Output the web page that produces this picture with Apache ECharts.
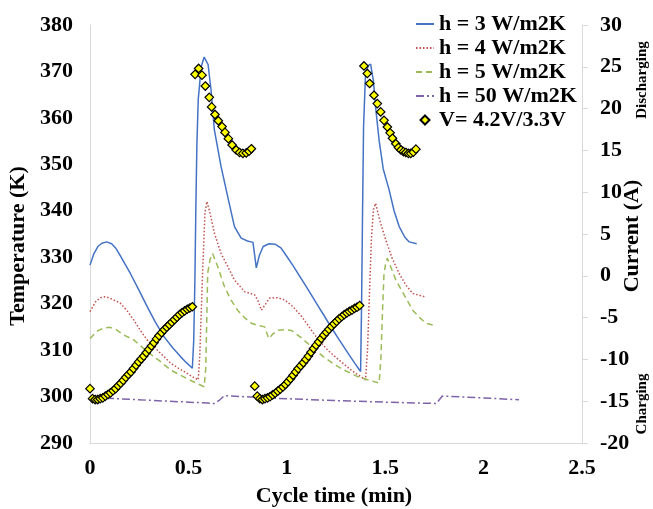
<!DOCTYPE html>
<html>
<head>
<meta charset="utf-8">
<script src="https://cdn.jsdelivr.net/npm/echarts@6/dist/echarts.min.js"></script>
<style>
html,body{margin:0;padding:0;background:#fff;}
#chart{width:653px;height:509px;}
</style>
</head>
<body>
<div id="chart"></div>
<script>
// ---------- data ----------
const xTicks = ['0', '0.5', '1', '1.5', '2', '2.5'];

const h3Time = [0, 0.02, 0.04, 0.06, 0.085, 0.11, 0.13, 0.15, 0.205, 0.25, 0.29, 0.33, 0.376, 0.42, 0.46, 0.49, 0.52,
  0.527, 0.533, 0.538, 0.543, 0.55, 0.565, 0.58, 0.59, 0.60, 0.615, 0.632, 0.666, 0.70, 0.734, 0.768, 0.80, 0.828,
  0.838, 0.845, 0.86, 0.88, 0.91, 0.94, 0.97, 0.99, 1.03, 1.07, 1.11, 1.15, 1.19, 1.23, 1.27, 1.31, 1.345, 1.375,
  1.38, 1.385, 1.39, 1.40, 1.415, 1.426, 1.44, 1.451, 1.469, 1.49, 1.52, 1.545, 1.571, 1.6, 1.622, 1.66];
const h3Temp = [328.3, 330.8, 332.3, 333.0, 333.3, 332.9, 332.0, 330.6, 326.5, 322.8, 319.4, 316.2, 312.9, 310.5, 308.6, 307.3, 306.1,
  312, 325, 341, 354, 364, 371, 373.1, 373.3, 371.5, 366, 357.4, 349.5, 343.0, 336.6, 334.1, 333.5, 333.2,
  330.0, 327.7, 330.3, 332.3, 332.9, 332.8, 332.0, 330.8, 328.3, 325.6, 322.9, 320.1, 317.4, 314.6, 312.0, 309.4, 307.2, 305.4,
  320, 340, 358, 369.6, 371.3, 371.6, 368, 362.4, 355.2, 349.0, 344.5, 340.0, 336.6, 334.3, 333.3, 332.9];

const h4Time = [0, 0.03, 0.055, 0.077, 0.10, 0.13, 0.154, 0.19, 0.222, 0.255, 0.29, 0.325, 0.359, 0.41, 0.445, 0.478, 0.515, 0.55,
  0.558, 0.565, 0.572, 0.584, 0.594, 0.61, 0.632, 0.666, 0.70, 0.734, 0.785, 0.837, 0.855, 0.871, 0.89, 0.913, 0.95,
  0.99, 1.03, 1.076, 1.12, 1.16, 1.21, 1.264, 1.33, 1.40, 1.41, 1.42, 1.43, 1.44, 1.451, 1.475, 1.503, 1.535, 1.571, 1.605, 1.64, 1.70];
const h4Temp = [318.3, 320.5, 321.3, 321.5, 321.2, 320.6, 320.1, 318.4, 316.5, 314.3, 312.2, 310.7, 309.3, 307.2, 306.2, 305.4, 304.4, 303.6,
  309, 318, 326.5, 339.5, 342.0, 339.5, 335.2, 330.8, 328.0, 325.1, 322.6, 321.9, 320.5, 318.6, 319.8, 321.2, 321.3,
  320.8, 319.4, 317.2, 314.6, 312.2, 309.9, 307.9, 305.6, 303.6, 310, 322, 334, 340.2, 341.6, 337.6, 333.7, 329.8, 326.5, 324.0, 322.2, 321.5];

const h5Time = [0, 0.04, 0.075, 0.102, 0.13, 0.17, 0.222, 0.29, 0.359, 0.41, 0.46, 0.52, 0.58,
  0.588, 0.593, 0.598, 0.61, 0.623, 0.649, 0.683, 0.715, 0.75, 0.785, 0.82, 0.855, 0.888, 0.908, 0.93, 0.956,
  0.99, 1.025, 1.075, 1.127, 1.185, 1.246, 1.30, 1.36, 1.42, 1.469, 1.478, 1.486, 1.494, 1.503, 1.511, 1.532, 1.554, 1.6, 1.64, 1.675, 1.707, 1.76];
const h5Temp = [312.5, 314.2, 314.8, 314.9, 314.5, 313.3, 312.2, 309.7, 307.5, 305.7, 304.6, 303.3, 302.1,
  306, 316, 326.5, 329.5, 330.8, 328.0, 323.7, 320.9, 318.6, 317.0, 315.8, 315.3, 315.0, 312.5, 313.5, 314.3,
  314.4, 314.2, 312.6, 310.7, 308.6, 306.8, 305.5, 304.3, 303.5, 302.9, 308, 318, 326.5, 328.8, 329.8, 327.5, 325.1, 321.6, 318.6, 317.0, 315.8, 315.2];

const h50Time = [0, 0.2, 0.4, 0.6, 0.632, 0.66, 0.683, 0.9, 1.2, 1.5, 1.76, 1.775, 1.79, 2.0, 2.18];
const h50Temp = [299.8, 299.4, 299.0, 298.6, 298.5, 299.3, 300.2, 299.7, 299.2, 298.8, 298.5, 299.3, 300.1, 299.7, 299.3];

const vTime = [
  // charging, cycle 1
  0, 0.013, 0.026, 0.039, 0.052, 0.065, 0.078, 0.091, 0.104, 0.117, 0.13, 0.143, 0.156, 0.169, 0.182, 0.195, 0.208,
  0.221, 0.234, 0.247, 0.26, 0.273, 0.286, 0.299, 0.312, 0.325, 0.338, 0.351, 0.364, 0.377, 0.39, 0.403, 0.416,
  0.429, 0.442, 0.455, 0.468, 0.481, 0.494, 0.507, 0.52,
  // discharging, cycle 1
  0.534, 0.552, 0.569, 0.586, 0.606, 0.618, 0.635, 0.652, 0.671, 0.686, 0.703, 0.722, 0.743, 0.76, 0.777, 0.794, 0.808, 0.82,
  // charging, cycle 2
  0.837, 0.850, 0.863, 0.876, 0.889, 0.902, 0.915, 0.928, 0.941, 0.954, 0.967, 0.980, 0.993, 1.006, 1.019, 1.032,
  1.045, 1.058, 1.071, 1.084, 1.097, 1.110, 1.123, 1.136, 1.149, 1.162, 1.175, 1.188, 1.201, 1.214, 1.227, 1.240,
  1.253, 1.266, 1.279, 1.292, 1.305, 1.318, 1.331, 1.344, 1.357, 1.370,
  // discharging, cycle 2
  1.392, 1.409, 1.421, 1.443, 1.46, 1.477, 1.494, 1.511, 1.525, 1.537, 1.554, 1.567, 1.58, 1.593, 1.605, 1.618, 1.63, 1.643, 1.656
];
const vCurrent = [
  -13.5, -14.7, -14.8, -14.8, -14.7, -14.6, -14.4, -14.2, -14.0, -13.75, -13.5, -13.15, -12.85, -12.5, -12.15, -11.8, -11.5,
  -11.1, -10.7, -10.3, -9.95, -9.6, -9.2, -8.8, -8.4, -8.0, -7.55, -7.15, -6.8, -6.45, -6.15, -5.85, -5.55,
  -5.25, -4.95, -4.65, -4.4, -4.2, -4.0, -3.85, -3.7,
  24.1, 24.8, 24.0, 22.7, 21.35, 20.2, 19.3, 18.55, 17.85, 17.15, 16.4, 15.65, 15.05, 14.75, 14.65, 14.7, 14.9, 15.2,
  -13.2, -14.4, -14.7, -14.8, -14.7, -14.6, -14.45, -14.25, -14.05, -13.8, -13.55, -13.3, -13.0, -12.65, -12.3, -11.9,
  -11.5, -11.1, -10.75, -10.4, -10.0, -9.6, -9.15, -8.7, -8.3, -7.9, -7.5, -7.1, -6.75, -6.4, -6.05, -5.75,
  -5.45, -5.15, -4.9, -4.65, -4.45, -4.25, -4.1, -3.9, -3.75, -3.55,
  25.1, 24.2, 23.0, 21.6, 20.6, 19.6, 18.6, 17.8, 17.1, 16.45, 15.8, 15.35, 15.05, 14.85, 14.75, 14.65, 14.65, 14.8, 15.15
];

const seriesNames = ['h = 3 W/m2K', 'h = 4 W/m2K', 'h = 5 W/m2K', 'h = 50 W/m2K', 'V= 4.2V/3.3V'];

// ---------- chart ----------
const pair = (xs, ys) => xs.map((x, i) => [x, ys[i]]);
const FONT = '"Liberation Serif", "Times New Roman", serif';
const axisGrey = '#d9d9d9';

const chart = echarts.init(document.getElementById('chart'), null, { renderer: 'canvas' });

function lineSeries(name, xs, ys, color, type) {
  return {
    name: name, type: 'line', data: pair(xs, ys), yAxisIndex: 0,
    symbol: 'none', showSymbol: false, smooth: false,
    lineStyle: { color: color, width: 1.5, type: type },
    itemStyle: { color: color },
    z: 2
  };
}

const legendData = seriesNames.map((n, i) => i < 4
  ? { name: n, itemStyle: { opacity: 0 } }
  : { name: n, icon: 'path://M5,0L10,5L5,10L0,5Z' });

chart.setOption({
  animation: false,
  backgroundColor: '#fff',
  grid: { left: 90, right: 71, top: 25, bottom: 66, containLabel: false },
  legend: {
    orient: 'vertical', left: 410, top: 8,
    itemWidth: 18, itemHeight: 9, itemGap: 2, symbolKeepAspect: true,
    data: legendData,
    textStyle: { fontFamily: FONT, fontWeight: 'bold', fontSize: 22, color: '#000', lineHeight: 22 }
  },
  xAxis: {
    type: 'value', min: 0, max: 2.5, interval: 0.5,
    axisLine: { show: true, onZero: false, lineStyle: { color: axisGrey, width: 1 } },
    axisTick: { show: false },
    splitLine: { show: false },
    axisLabel: {
      margin: 14, fontFamily: FONT, fontWeight: 'bold', fontSize: 22, color: '#000',
      formatter: (v) => xTicks[Math.round(v / 0.5)]
    }
  },
  yAxis: [
    {
      type: 'value', min: 290, max: 380, interval: 10, position: 'left',
      axisLine: { show: true, onZero: false, lineStyle: { color: axisGrey, width: 1 } },
      axisTick: { show: false },
      splitLine: { show: false },
      axisLabel: { margin: 17, fontFamily: FONT, fontWeight: 'bold', fontSize: 22, color: '#000' }
    },
    {
      type: 'value', min: -20, max: 30, interval: 5, position: 'right',
      axisLine: { show: true, onZero: false, lineStyle: { color: axisGrey, width: 1 } },
      axisTick: { show: true, inside: false, length: 6, lineStyle: { color: axisGrey } },
      splitLine: { show: false },
      axisLabel: { margin: 18, fontFamily: FONT, fontWeight: 'bold', fontSize: 22, color: '#000' }
    }
  ],
  graphic: [
    { type: 'text', x: 18, y: 246, rotation: Math.PI / 2,
      style: { text: 'Temperature (K)', font: 'bold 22px ' + FONT, fill: '#000', align: 'center', verticalAlign: 'middle' } },
    { type: 'text', x: 334, y: 496,
      style: { text: 'Cycle time (min)', font: 'bold 22px ' + FONT, fill: '#000', align: 'center', verticalAlign: 'middle' } },
    { type: 'text', x: 632, y: 236, rotation: Math.PI / 2,
      style: { text: 'Current (A)', font: 'bold 22px ' + FONT, fill: '#000', align: 'center', verticalAlign: 'middle' } },
    { type: 'text', x: 642, y: 80, rotation: Math.PI / 2,
      style: { text: 'Discharging', font: 'bold 15px ' + FONT, fill: '#000', align: 'center', verticalAlign: 'middle' } },
    { type: 'text', x: 642, y: 404, rotation: Math.PI / 2,
      style: { text: 'Charging', font: 'bold 15px ' + FONT, fill: '#000', align: 'center', verticalAlign: 'middle' } }
  ],
  series: [
    lineSeries(seriesNames[0], h3Time, h3Temp, '#4472C4', 'solid'),
    lineSeries(seriesNames[1], h4Time, h4Temp, '#C0504D', [1.5, 2]),
    lineSeries(seriesNames[2], h5Time, h5Temp, '#9BBB59', [6, 4]),
    lineSeries(seriesNames[3], h50Time, h50Temp, '#7F63A8', [8, 3, 2, 3]),
    {
      name: seriesNames[4], type: 'scatter', yAxisIndex: 1,
      data: pair(vTime, vCurrent),
      symbol: 'diamond', symbolSize: 8.5,
      itemStyle: { color: '#FFFF00', borderColor: '#000', borderWidth: 1.2, opacity: 1 },
      z: 5
    }
  ]
});
</script>
</body>
</html>
